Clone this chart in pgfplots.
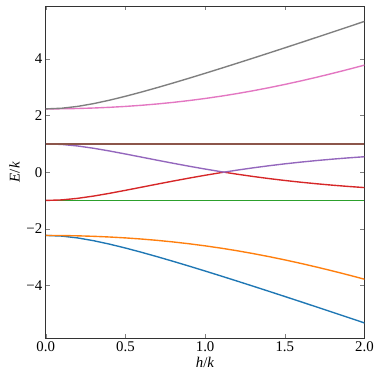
\documentclass[border=0pt]{standalone}
\usepackage{fontspec}
\setmainfont{Liberation Serif}
\usepackage{pgfplots}
\usepackage{pgfplotstable}
\pgfplotsset{compat=1.18}

\definecolor{tabblue}{HTML}{1F77B4}
\definecolor{taborange}{HTML}{FF7F0E}
\definecolor{tabgreen}{HTML}{2CA02C}
\definecolor{tabred}{HTML}{D62728}
\definecolor{tabpurple}{HTML}{9467BD}
\definecolor{tabbrown}{HTML}{8C564B}
\definecolor{tabpink}{HTML}{E377C2}
\definecolor{tabgray}{HTML}{7F7F7F}

% energy levels E/k against h/k
\pgfplotstableread{
h     gray   pink   brown  purple red     green   orange  blue
0.0   2.2361 2.2361 1.0    1.0000 -1.0000 -1.0    -2.2361 -2.2361
0.1   2.2591 2.2395 1.0    0.9804 -0.9804 -1.0    -2.2395 -2.2591
0.2   2.3242 2.2498 1.0    0.9256 -0.9256 -1.0    -2.2498 -2.3242
0.3   2.4221 2.2671 1.0    0.8450 -0.8450 -1.0    -2.2671 -2.4221
0.4   2.5435 2.2915 1.0    0.7481 -0.7481 -1.0    -2.2915 -2.5435
0.5   2.6813 2.3234 1.0    0.6421 -0.6421 -1.0    -2.3234 -2.6813
0.6   2.8308 2.3630 1.0    0.5322 -0.5322 -1.0    -2.3630 -2.8308
0.7   2.9885 2.4105 1.0    0.4220 -0.4220 -1.0    -2.4105 -2.9885
0.8   3.1526 2.4664 1.0    0.3138 -0.3138 -1.0    -2.4664 -3.1526
0.9   3.3214 2.5308 1.0    0.2094 -0.2094 -1.0    -2.5308 -3.3214
1.0   3.4940 2.6039 1.0    0.1099 -0.1099 -1.0    -2.6039 -3.4940
1.1   3.6696 2.6858 1.0    0.0162 -0.0162 -1.0    -2.6858 -3.6696
1.118 3.7016 2.7016 1.0    0.0000  0.0000 -1.0    -2.7016 -3.7016
1.2   3.8478 2.7766 1.0    0.0711 -0.0711 -1.0    -2.7766 -3.8478
1.3   4.0280 2.8761 1.0    0.1519 -0.1519 -1.0    -2.8761 -4.0280
1.4   4.2101 2.9840 1.0    0.2261 -0.2261 -1.0    -2.9840 -4.2101
1.5   4.3936 3.1000 1.0    0.2937 -0.2937 -1.0    -3.1000 -4.3936
1.6   4.5785 3.2235 1.0    0.3550 -0.3550 -1.0    -3.2235 -4.5785
1.7   4.7646 3.3541 1.0    0.4105 -0.4105 -1.0    -3.3541 -4.7646
1.8   4.9517 3.4912 1.0    0.4605 -0.4605 -1.0    -3.4912 -4.9517
1.9   5.1397 3.6343 1.0    0.5054 -0.5054 -1.0    -3.6343 -5.1397
2.0   5.3285 3.7828 1.0    0.5457 -0.5457 -1.0    -3.7828 -5.3285
}\levels

\begin{document}
\begin{tikzpicture}
\begin{axis}[
  name=main,
  scale only axis,
  width=321bp, height=334bp,
  xmin=0, xmax=2,
  ymin=-5.86, ymax=5.86,
  xtick={0,0.5,1,1.5,2},
  xticklabels={0.0,0.5,1.0,1.5,2.0},
  ytick={-4,-2,0,2,4},
  yticklabels={−4,−2,0,2,4},
  tick label style={font=\fontsize{15}{17}\selectfont},
  label style={font=\fontsize{15}{17}\selectfont},
  xlabel style={yshift=1bp},
  tick align=inside,
  xtick pos=both, ytick pos=both,
  xticklabel pos=bottom, yticklabel pos=left,
  major tick length=4bp,
  axis line style={black!80, line width=0.8pt},
  xlabel={\textit{h}/\textit{k}}, ylabel={\textit{E}/\textit{k}},
]
\addplot[tabblue,   line width=1.4pt] table[x=h, y=blue]   {\levels};
\addplot[taborange, line width=1.4pt] table[x=h, y=orange] {\levels};
\addplot[tabgreen,  line width=1.4pt] table[x=h, y=green]  {\levels};
\addplot[tabred,    line width=1.4pt] table[x=h, y=red]    {\levels};
\addplot[tabpurple, line width=1.4pt] table[x=h, y=purple] {\levels};
\addplot[tabbrown,  line width=1.4pt] table[x=h, y=brown]  {\levels};
\addplot[tabpink,   line width=1.4pt] table[x=h, y=pink]   {\levels};
\addplot[tabgray,   line width=1.4pt] table[x=h, y=gray]   {\levels};
\end{axis}
% white margin like the saved figure
\path (main.outer south west) ++(-6bp,-6bp);
\path (main.outer north east) ++(5bp,6bp);
\end{tikzpicture}
\end{document}
